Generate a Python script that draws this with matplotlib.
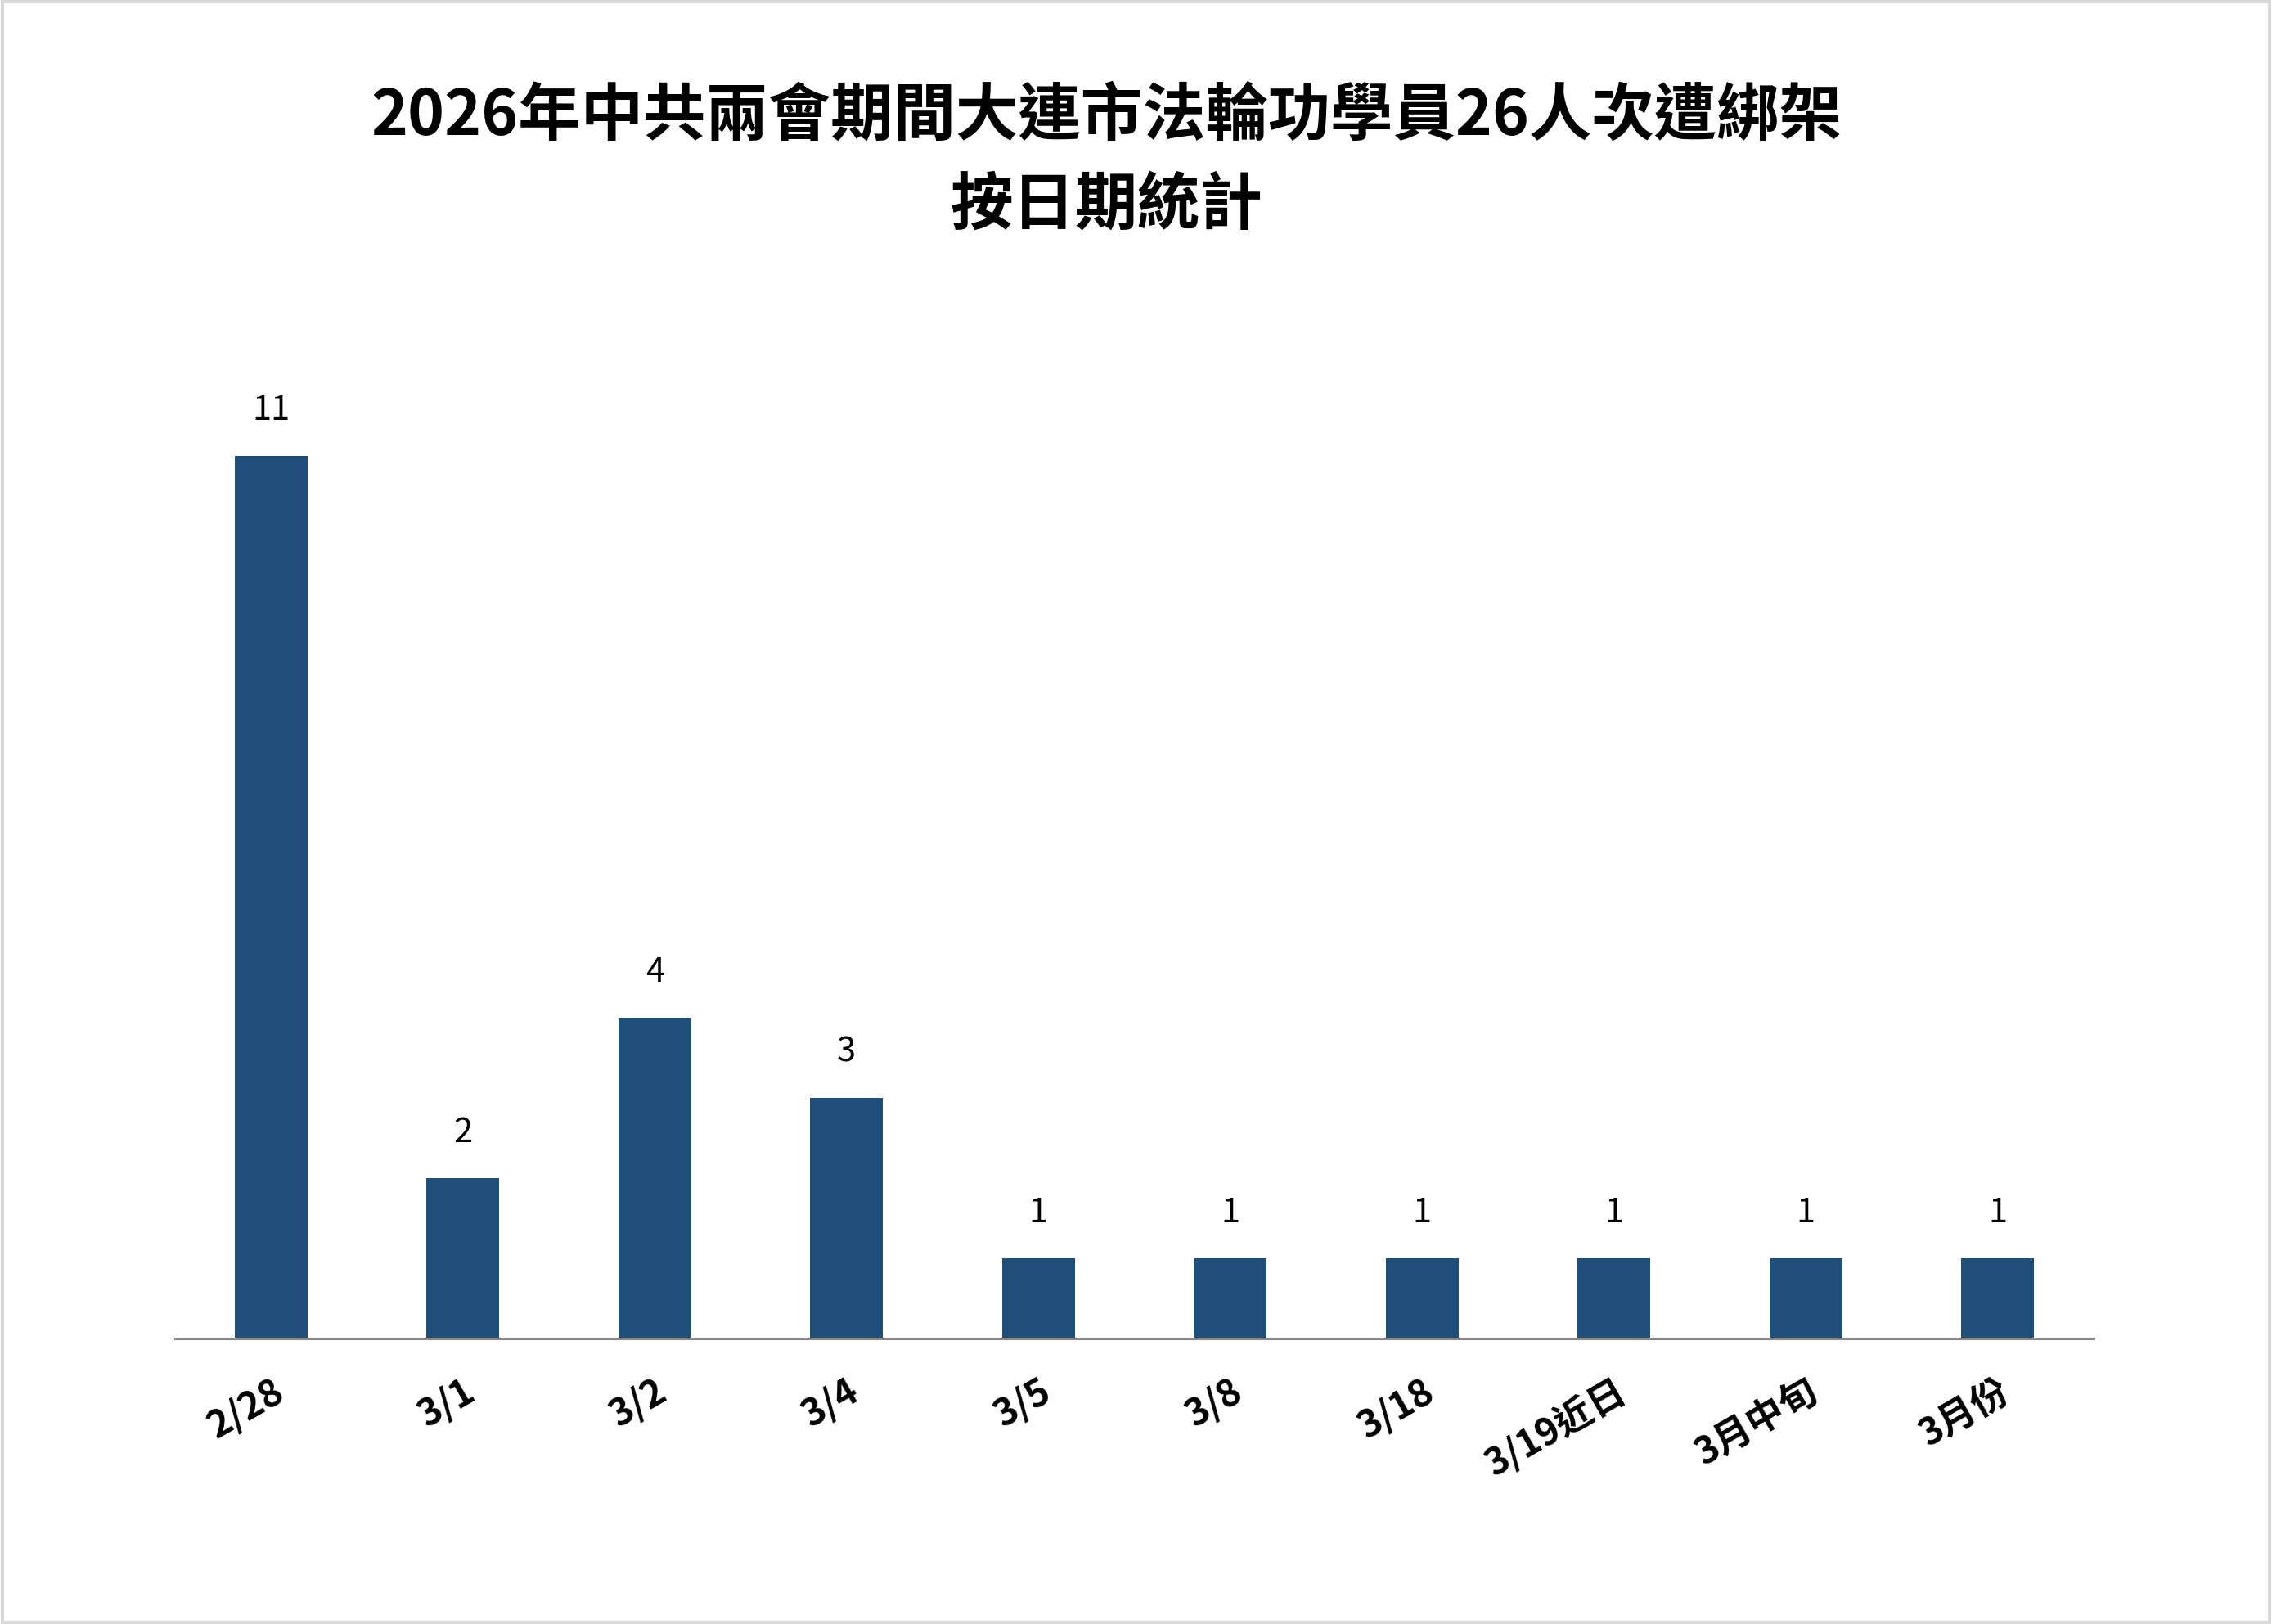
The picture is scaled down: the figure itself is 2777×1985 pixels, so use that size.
import matplotlib
matplotlib.use("Agg")
import matplotlib.pyplot as plt
from matplotlib.patches import Rectangle

plt.rcParams['font.family'] = ['Noto Sans CJK TC', 'DejaVu Sans']

categories = ["2/28", "3/1", "3/2", "3/4", "3/5", "3/8", "3/18", "3/19近日", "3月中旬", "3月份"]
values = [11, 2, 4, 3, 1, 1, 1, 1, 1, 1]
title_line1 = "2026年中共兩會期間大連市法輪功學員26人次遭綁架"
title_line2 = "按日期統計"

fig = plt.figure(figsize=(27.77, 19.85), dpi=100)
ax = fig.add_axes([0.0771, 0.1758, 0.8444, 0.5930])

x = list(range(len(categories)))
bars = ax.bar(x, values, width=0.38, color="#1f4e79", zorder=2)
for xi, v in zip(x, values):
    ax.annotate(str(v), (xi, v), xytext=(0, 40), textcoords="offset points",
                ha="center", va="center", fontsize=30, color="black")

ax.set_xlim(-0.5, len(categories) - 0.5)
ax.set_ylim(0, 12)
ax.set_yticks([])
for s in ["left", "right", "top"]:
    ax.spines[s].set_visible(False)
ax.spines["bottom"].set_color("#888888")
ax.spines["bottom"].set_linewidth(2.2)
ax.set_xticks(x)
ax.set_xticklabels(categories, rotation=30, ha="right", rotation_mode="anchor",
                   fontsize=33, fontweight="bold")
ax.tick_params(axis="x", length=0, pad=30)

fig.text(0.487, 0.9285, title_line1, ha="center", va="center", fontsize=55, fontweight="bold")
fig.text(0.487, 0.8735, title_line2, ha="center", va="center", fontsize=55, fontweight="bold")

fig.patches.append(Rectangle((0.001, 0.001), 0.998, 0.998, transform=fig.transFigure,
                             fill=False, edgecolor="#d9d9d9", linewidth=3))

fig.savefig("out.png", dpi=100)
